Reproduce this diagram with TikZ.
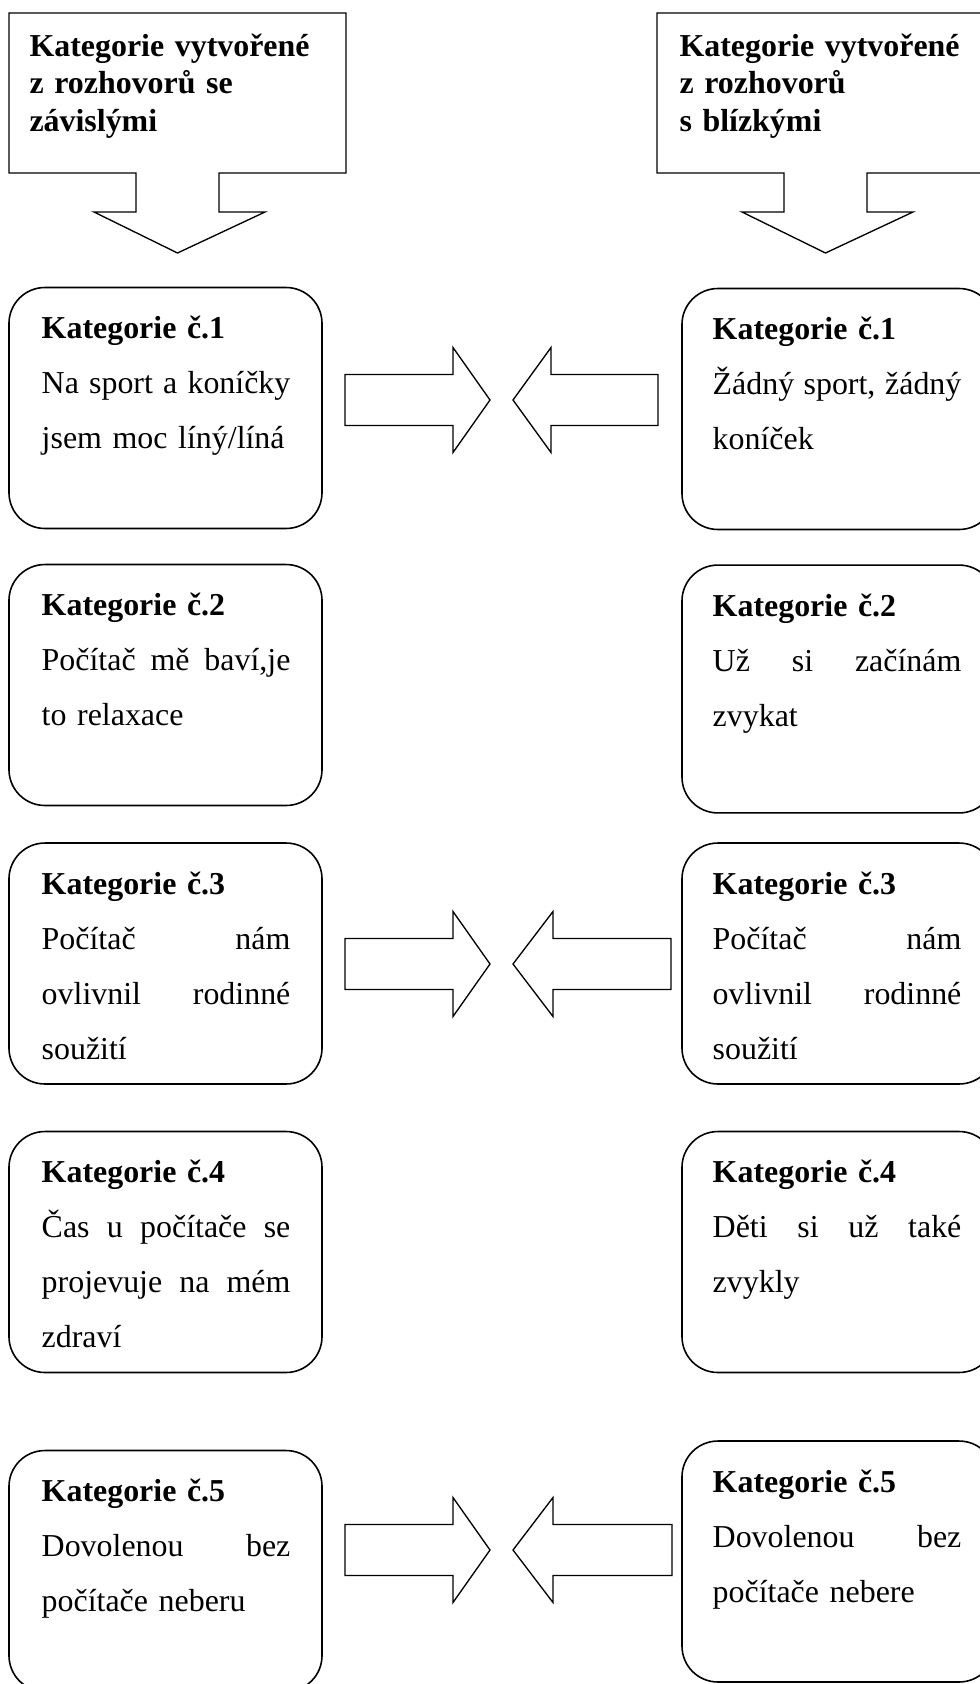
\documentclass[tikz,border=0pt]{standalone}
\usepackage{fontspec}
\setmainfont{Liberation Serif}
\usetikzlibrary{positioning,calc}

% one justified line of a category box
\newcommand{\jline}[1]{\leavevmode\hbox to\hsize{\spaceskip=0.25em plus 1fil\relax #1}}

\begin{document}
\begin{tikzpicture}[
    x=0.376pt, y=-0.376pt,
    outline/.style={draw=black, line width=0.5pt, line join=miter},
    catbox/.style={rectangle, draw=black, line width=0.6pt, rounded corners=13.5pt, minimum width=117.7pt, minimum height=90.6pt},
    headtext/.style={anchor=base west, inner sep=0pt, text width=130pt, align=left, font=\bfseries\fontsize{12}{14.1}\selectfont},
    cattext/.style={anchor=base west, inner sep=0pt, text width=93.5pt, align=left, font=\fontsize{12}{20.7}\selectfont}
]
\useasboundingbox (0,0) rectangle (980,1684);
\clip (0,0) rectangle (980,1684);

% Header callouts
\draw[outline] (9,13) -- (346,13) -- (346,173) -- (219,173) -- (219,212) -- (265,212) -- (177.5,253) -- (94,212) -- (136,212) -- (136,173) -- (9,173) -- cycle;
\draw[outline, shift={(648,0)}] (9,13) -- (346,13) -- (346,173) -- (219,173) -- (219,212) -- (265,212) -- (177.5,253) -- (94,212) -- (136,212) -- (136,173) -- (9,173) -- cycle;
\node[headtext] (headl) at (29,56) {Kategorie vytvořené\\z rozhovorů se\\závislými};
\node[headtext] (headr) at (679,56) {Kategorie vytvořené\\z rozhovorů\\s blízkými};

% Left column
\node[catbox] (catl1) at (165.5,408) {};
\node[catbox] (catl2) at (165.5,685) {};
\node[catbox] (catl3) at (165.5,963.5) {};
\node[catbox] (catl4) at (165.5,1252) {};
\node[catbox] (catl5) at (165.5,1571) {};

% Right column
\node[catbox] (catr1) at (838.5,409) {};
\node[catbox, minimum height=93.2pt] (catr2) at (838.5,689) {};
\node[catbox] (catr3) at (838.5,963.5) {};
\node[catbox] (catr4) at (838.5,1252) {};
\node[catbox] (catr5) at (838.5,1561.5) {};

% Texts
\node[cattext] (txtl1) at ($(catl1.north west)+(33,52)$) {\textbf{Kategorie č.1}\\\jline{Na sport a koníčky}\\jsem moc líný/líná};
\node[cattext] (txtl2) at ($(catl2.north west)+(33,52)$) {\textbf{Kategorie č.2}\\\jline{Počítač mě baví,je}\\to relaxace};
\node[cattext] (txtl3) at ($(catl3.north west)+(33,52)$) {\textbf{Kategorie č.3}\\\jline{Počítač nám}\\\jline{ovlivnil rodinné}\\soužití};
\node[cattext] (txtl4) at ($(catl4.north west)+(33,52)$) {\textbf{Kategorie č.4}\\\jline{Čas u počítače se}\\\jline{projevuje na mém}\\zdraví};
\node[cattext] (txtl5) at ($(catl5.north west)+(33,52)$) {\textbf{Kategorie č.5}\\\jline{Dovolenou bez}\\počítače neberu};
\node[cattext] (txtr1) at ($(catr1.north west)+(31,52)$) {\textbf{Kategorie č.1}\\\jline{Žádný sport, žádný}\\koníček};
\node[cattext] (txtr2) at ($(catr2.north west)+(31,52)$) {\textbf{Kategorie č.2}\\\jline{Už si začínám}\\zvykat};
\node[cattext] (txtr3) at ($(catr3.north west)+(31,52)$) {\textbf{Kategorie č.3}\\\jline{Počítač nám}\\\jline{ovlivnil rodinné}\\soužití};
\node[cattext] (txtr4) at ($(catr4.north west)+(31,52)$) {\textbf{Kategorie č.4}\\\jline{Děti si už také}\\zvykly};
\node[cattext] (txtr5) at ($(catr5.north west)+(31,52)$) {\textbf{Kategorie č.5}\\\jline{Dovolenou bez}\\počítače nebere};

% Block arrows between the columns
\draw[outline] (345,400) ++(0,-25.5) -- ++(108,0) -- ++(0,-27) -- ++(37,52.5) -- ++(-37,52.5) -- ++(0,-27) -- ++(-108,0) -- cycle;
\draw[outline] (658,400) ++(0,-25.5) -- ++(-107,0) -- ++(0,-27) -- ++(-38,52.5) -- ++(38,52.5) -- ++(0,-27) -- ++(107,0) -- cycle;
\draw[outline] (345,964) ++(0,-25.5) -- ++(108,0) -- ++(0,-27) -- ++(37,52.5) -- ++(-37,52.5) -- ++(0,-27) -- ++(-108,0) -- cycle;
\draw[outline] (671,964) ++(0,-25.5) -- ++(-118,0) -- ++(0,-27) -- ++(-40,52.5) -- ++(40,52.5) -- ++(0,-27) -- ++(118,0) -- cycle;
\draw[outline] (345,1550) ++(0,-25.5) -- ++(108,0) -- ++(0,-27) -- ++(37,52.5) -- ++(-37,52.5) -- ++(0,-27) -- ++(-108,0) -- cycle;
\draw[outline] (672,1550) ++(0,-25.5) -- ++(-119,0) -- ++(0,-27) -- ++(-40,52.5) -- ++(40,52.5) -- ++(0,-27) -- ++(119,0) -- cycle;

\end{tikzpicture}
\end{document}
